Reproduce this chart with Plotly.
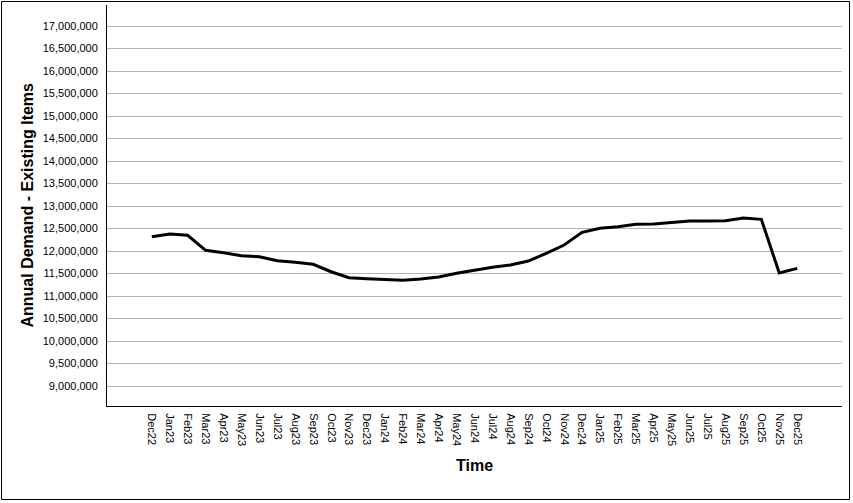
import plotly.graph_objects as go

months = ["Dec22", "Jan23", "Feb23", "Mar23", "Apr23", "May23", "Jun23", "Jul23", "Aug23", "Sep23",
          "Oct23", "Nov23", "Dec23", "Jan24", "Feb24", "Mar24", "Apr24", "May24", "Jun24", "Jul24",
          "Aug24", "Sep24", "Oct24", "Nov24", "Dec24", "Jan25", "Feb25", "Mar25", "Apr25", "May25",
          "Jun25", "Jul25", "Aug25", "Sep25", "Oct25", "Nov25", "Dec25"]

annual_demand = [12318000, 12378000, 12349000, 12015000, 11963000, 11896000, 11874000, 11785000,
                 11748000, 11704000, 11540000, 11407000, 11385000, 11363000, 11348000, 11378000,
                 11422000, 11504000, 11578000, 11637000, 11689000, 11778000, 11948000, 12133000,
                 12415000, 12504000, 12541000, 12593000, 12600000, 12630000, 12667000, 12667000,
                 12674000, 12733000, 12704000, 11511000, 11615000]

y_ticks = [9000000 + 500000 * i for i in range(17)]

W, H = 853, 503
L, R, T, B = 107, 11, 5, 97
pw, ph = W - L - R, H - T - B

fig = go.Figure()
fig.add_trace(go.Scatter(
    x=list(range(len(months))), y=annual_demand, mode="lines",
    line=dict(color="black", width=3), hoverinfo="skip", showlegend=False))

fig.update_layout(
    width=W, height=H,
    margin=dict(l=L, r=R, t=T, b=B, pad=0),
    paper_bgcolor="white", plot_bgcolor="white",
    font=dict(family="Liberation Sans, Arial, sans-serif", color="black", size=11),
    showlegend=False,
)

fig.update_xaxes(
    range=[-2.5, 38.5],
    tickmode="array", tickvals=list(range(len(months))), ticktext=months,
    tickangle=90, ticks="", showgrid=False, zeroline=False,
    showline=True, linecolor="black", linewidth=1,
    tickfont=dict(size=11, color="black"), ticklabelstandoff=4,
)

fig.update_yaxes(
    range=[8556000, 17467000],
    tickmode="array", tickvals=y_ticks,
    tickformat=",", ticks="", showgrid=True, gridcolor="#b4b4b4", gridwidth=1,
    zeroline=False, showline=True, linecolor="black", linewidth=1,
    tickfont=dict(size=11, color="black"), ticklabelstandoff=6,
)

# axis titles
fig.add_annotation(
    text="<b>Time</b>", xref="paper", yref="paper",
    x=0.5, y=(406 - 465) / ph, xanchor="center", yanchor="middle",
    showarrow=False, font=dict(size=16, color="black"))
fig.add_annotation(
    text="<b>Annual Demand - Existing Items</b>", xref="paper", yref="paper",
    x=(27 - L) / pw, y=0.5, xanchor="center", yanchor="middle", textangle=-90,
    showarrow=False, font=dict(size=16, color="black"))

# outer frame
fig.add_shape(
    type="rect", xref="paper", yref="paper",
    x0=(1.5 - L) / pw, x1=(849.5 - L) / pw,
    y0=(406 - 499.5) / ph, y1=(406 - 1.5) / ph,
    line=dict(color="black", width=1), fillcolor="rgba(0,0,0,0)", layer="above")

fig.write_html(
    "out.html",
    config={"displayModeBar": False, "staticPlot": True},
    post_script="document.body.style.margin='0';document.body.style.overflow='hidden';",
)
